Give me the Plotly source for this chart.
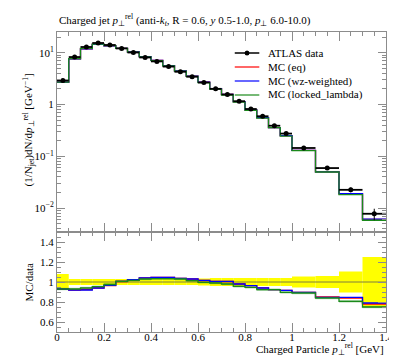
import plotly.graph_objects as go
import numpy as np

# ---- data ----
bin_edges = [0.0, 0.05, 0.1, 0.15, 0.2, 0.25, 0.3, 0.35, 0.4, 0.45, 0.5, 0.55, 0.6,
             0.65, 0.7, 0.75, 0.8, 0.85, 0.9, 0.95, 1.0, 1.1, 1.2, 1.3, 1.4]
data_vals = [2.91, 8.25, 12.9, 15.4, 14.1, 12.1, 10.1, 8.1, 6.8, 5.4, 4.29, 3.44, 2.66,
             2.01, 1.56, 1.16, 0.82, 0.594, 0.39, 0.275, 0.145, 0.0594, 0.0226, 0.0078]
data_relerr = [0.08, 0.03, 0.03, 0.03, 0.03, 0.03, 0.03, 0.03, 0.03, 0.03, 0.03, 0.03, 0.035,
               0.04, 0.04, 0.04, 0.04, 0.04, 0.04, 0.04, 0.055, 0.06, 0.105, 0.25]
ratio_eq = [0.93, 0.92, 0.925, 0.94, 0.965, 1.005, 1.022, 1.04, 1.046, 1.046, 1.036, 1.03, 1.015,
            1.005, 1.005, 0.98, 0.963, 0.942, 0.923, 0.917, 0.897, 0.85, 0.84, 0.78]
ratio_wz = [0.93, 0.92, 0.92, 0.94, 0.967, 1.007, 1.023, 1.04, 1.047, 1.047, 1.037, 1.03, 1.017,
            1.007, 1.007, 0.98, 0.963, 0.94, 0.923, 0.917, 0.897, 0.847, 0.847, 0.79]
ratio_locked = [0.93, 0.93, 0.94, 0.953, 0.975, 1.007, 1.017, 1.03, 1.033, 1.033, 1.03, 1.013, 0.997,
                0.99, 0.98, 0.957, 0.947, 0.923, 0.923, 0.897, 0.89, 0.84, 0.807, 0.75]
legend_names = ["ATLAS data", "MC (eq)", "MC (wz-weighted)", "MC (locked_lambda)"]
x_tickvals = [0, 0.2, 0.4, 0.6, 0.8, 1.0, 1.2, 1.4]
x_ticktext = ["0", "0.2", "0.4", "0.6", "0.8", "1", "1.2", "1.4"]
y_tickvals = [0.01, 0.1, 1, 10]
y_ticktext = ["10<sup>−2</sup>", "10<sup>−1</sup>", "1", "10<sup>1</sup>"]
r_tickvals = [0.6, 0.8, 1.0, 1.2, 1.4]
r_ticktext = ["0.6", "0.8", "1", "1.2", "1.4"]

edges = np.array(bin_edges)
centers = 0.5 * (edges[1:] + edges[:-1])
widths = edges[1:] - edges[:-1]
dv = np.array(data_vals)
derr = dv * np.array(data_relerr)

FONT = "Liberation Serif"
GRAY = "#8c8c8c"
RED, BLUE, GREEN = "#ff0000", "#0000ff", "#1a8a1a"
COLORS = ["black", RED, BLUE, GREEN]

def step(vals):
    return list(edges), list(vals) + [vals[-1]]

fig = go.Figure()

# ratio band (data)
rel = np.array(data_relerr)
fig.add_trace(go.Bar(x=centers, y=2 * rel, base=1 - rel, width=widths,
                     marker=dict(color="#ffff00", line=dict(width=0)),
                     xaxis="x2", yaxis="y2", showlegend=False, hoverinfo="skip"))
fig.add_trace(go.Scatter(x=[edges[0], edges[-1]], y=[1, 1], mode="lines",
                         line=dict(color="#7f7f3f", width=1), xaxis="x2", yaxis="y2",
                         showlegend=False))
# light green MC band in ratio
rl = np.array(ratio_locked)
fig.add_trace(go.Bar(x=centers, y=[0.024] * len(centers), base=rl - 0.012, width=widths,
                     marker=dict(color="rgba(26,138,26,0.35)", line=dict(width=0)),
                     xaxis="x2", yaxis="y2", showlegend=False, hoverinfo="skip"))

for name, ratio, col in [(legend_names[1], ratio_eq, RED), (legend_names[2], ratio_wz, BLUE),
                         (legend_names[3], ratio_locked, GREEN)]:
    mc = dv * np.array(ratio)
    xs, ys = step(mc)
    fig.add_trace(go.Scatter(x=xs, y=ys, mode="lines", line=dict(color=col, width=1.3, shape="hv"),
                             name=name, showlegend=False, xaxis="x", yaxis="y"))
    xs2, ys2 = step(ratio)
    fig.add_trace(go.Scatter(x=xs2, y=ys2, mode="lines", line=dict(color=col, width=1.3, shape="hv"),
                             showlegend=False, xaxis="x2", yaxis="y2"))

# data markers on top in main
fig.add_trace(go.Scatter(x=centers, y=dv, mode="markers", name=legend_names[0],
                         marker=dict(color="black", size=5),
                         error_x=dict(type="data", array=widths / 2, color="black", thickness=1.8, width=0),
                         error_y=dict(type="data", array=derr, color="black", thickness=1, width=0),
                         showlegend=False, xaxis="x", yaxis="y"))

minor_log = [m * 10.0 ** k for k in range(-3, 2) for m in range(2, 10)]

axis_common = dict(showline=True, linecolor=GRAY, linewidth=1, mirror="allticks",
                   ticks="inside", tickcolor=GRAY, showgrid=False, zeroline=False,
                   tickfont=dict(family=FONT, size=11, color="black"))

# manual legend (paper coords)
def px_x(p):
    return (p - 49) / 335.0

def px_y(p):
    return (324 - p) / 300.0

shapes = []
annotations = []
leg_rows = [45, 59, 73, 87]
for i, (nm, col) in enumerate(zip(legend_names, COLORS)):
    yy = px_y(leg_rows[i])
    shapes.append(dict(type="line", xref="paper", yref="paper", x0=px_x(230), x1=px_x(255),
                       y0=yy, y1=yy, line=dict(color=col, width=1.2 if i else 1.5)))
    annotations.append(dict(text=nm, xref="paper", yref="paper", x=px_x(262), y=yy,
                            xanchor="left", yanchor="middle", showarrow=False,
                            font=dict(family=FONT, size=11)))
shapes.append(dict(type="circle", xref="paper", yref="paper",
                   x0=px_x(240), x1=px_x(245), y0=px_y(47.5), y1=px_y(42.5),
                   fillcolor="black", line=dict(color="black", width=0)))

annotations += [
    dict(text="Charged jet <i>p</i><sub>⊥</sub><sup>rel</sup> (anti-<i>k</i><sub><i>t</i></sub>, R = 0.6, <i>y</i> 0.5-1.0, <i>p</i><sub>⊥</sub> 6.0-10.0)",
         xref="paper", yref="paper", x=0, y=1.0, xanchor="left", yanchor="bottom",
         yshift=2, showarrow=False, font=dict(family=FONT, size=11)),
    dict(text="(1/N<sub>jet</sub>)dN/d<i>p</i><sub>⊥</sub><sup>rel</sup> [GeV<sup>−1</sup>]",
         xref="paper", yref="paper", x=px_x(20), y=px_y(122), textangle=-90,
         xanchor="center", yanchor="middle", showarrow=False, font=dict(family=FONT, size=11)),
    dict(text="MC/data", xref="paper", yref="paper", x=px_x(20), y=px_y(274), textangle=-90,
         xanchor="center", yanchor="middle", showarrow=False, font=dict(family=FONT, size=11)),
    dict(text="Charged Particle <i>p</i><sub>⊥</sub><sup>rel</sup> [GeV]", xref="paper", yref="paper",
         x=1.0, y=px_y(341), xanchor="right", yanchor="middle", showarrow=False,
         font=dict(family=FONT, size=11)),
]

fig.update_layout(
    width=397, height=358,
    margin=dict(l=49, r=13, t=24, b=34),
    paper_bgcolor="white", plot_bgcolor="white",
    barmode="overlay", showlegend=False,
    font=dict(family=FONT, size=11, color="black"),
    xaxis=dict(domain=[0, 1], range=[0, 1.4], anchor="y", showticklabels=False,
               tickmode="array", tickvals=x_tickvals, ticklen=9,
               minor=dict(dtick=0.05, tick0=0, ticks="inside", ticklen=4, tickcolor=GRAY),
               **axis_common),
    yaxis=dict(domain=[1 / 3, 1], type="log", range=[-2.46, 1.40], anchor="x",
               tickmode="array", tickvals=y_tickvals, ticktext=y_ticktext, ticklen=8,
               minor=dict(tickmode="array", tickvals=minor_log, ticks="inside", ticklen=4, tickcolor=GRAY),
               **axis_common),
    xaxis2=dict(domain=[0, 1], range=[0, 1.4], anchor="y2",
                tickmode="array", tickvals=x_tickvals, ticktext=x_ticktext, ticklen=9,
                ticklabelstandoff=-5,
                minor=dict(dtick=0.05, tick0=0, ticks="inside", ticklen=4, tickcolor=GRAY),
                **axis_common),
    yaxis2=dict(domain=[0, 1 / 3], range=[0.5, 1.5], anchor="x2",
                tickmode="array", tickvals=r_tickvals, ticktext=r_ticktext, ticklen=8,
                minor=dict(dtick=0.05, tick0=0.5, ticks="inside", ticklen=4, tickcolor=GRAY),
                **axis_common),
    shapes=shapes,
    annotations=annotations,
)

fig.write_html("out.html")
